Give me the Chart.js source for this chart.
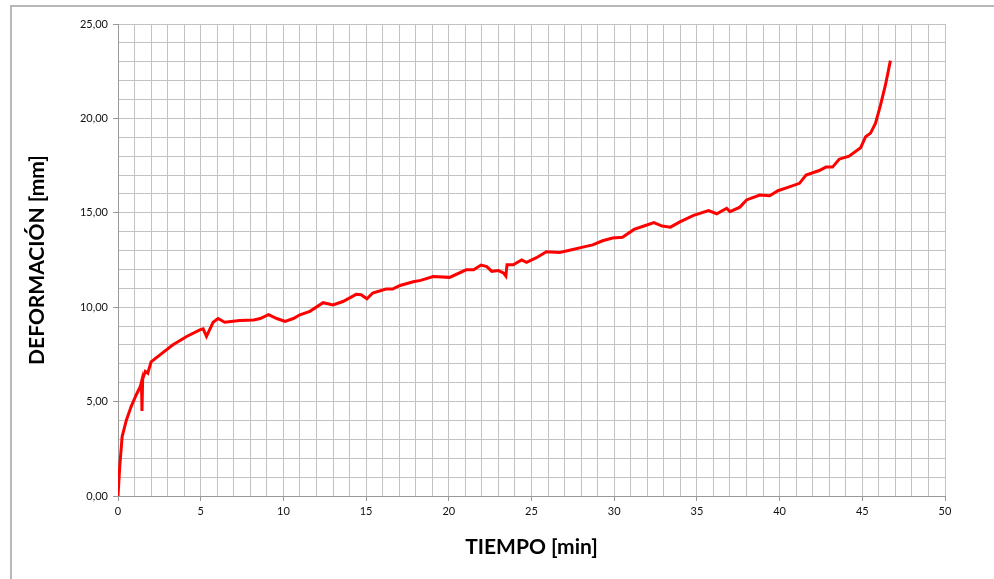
<!DOCTYPE html>
<html>
<head>
<meta charset="utf-8">
<script src="https://cdn.jsdelivr.net/npm/chart.js@4"></script>
<style>
  html, body { margin: 0; padding: 0; background: #fff; overflow: hidden; }
  #frame {
    position: absolute; left: 10px; top: 5px; width: 2000px; height: 2000px;
    border-left: 2px solid #b8b8b8; border-top: 2px solid #b8b8b8;
  }
  #wrap { position: absolute; left: 0; top: 0; width: 994px; height: 579px; }
</style>
</head>
<body>
<div id="frame"></div>
<div id="wrap"><canvas id="chart1" width="994" height="579"></canvas></div>
<script>
// Deformation vs time curve

const timeMin = [
  0, 0.1, 0.25, 0.5, 0.8, 1.1, 1.35, 1.42, 1.45, 1.49, 1.65, 1.8, 2.0, 2.5,
  3.3, 4.15, 4.95, 5.15, 5.35, 5.75, 6.05, 6.45, 7.35, 8.2, 8.6, 9.1, 9.6,
  10.1, 10.6, 11.0, 11.6, 12.4, 13.0, 13.6, 14.4, 14.7, 15.05, 15.4, 16.2,
  16.6, 17.05, 17.85, 18.3, 19.05, 20.05, 21.05, 21.5, 21.95, 22.3, 22.6,
  23.0, 23.3, 23.45, 23.52, 23.9, 24.4, 24.7, 25.3, 25.9, 26.7, 27.5, 28.1,
  28.7, 29.3, 29.9, 30.5, 31.2, 31.8, 32.4, 32.9, 33.4, 34.0, 34.8, 35.7,
  36.2, 36.8, 37.0, 37.6, 38.0, 38.8, 39.4, 39.9, 40.5, 41.2, 41.6, 42.4,
  42.8, 43.2, 43.6, 44.2, 44.9, 45.2, 45.5, 45.8, 46.1, 46.4, 46.7
];
const deformMm = [
  0, 1.5, 3.15, 4.0, 4.75, 5.35, 5.8, 6.05, 4.5, 6.2, 6.6, 6.5, 7.1, 7.45,
  8.0, 8.45, 8.8, 8.85, 8.45, 9.2, 9.4, 9.2, 9.3, 9.32, 9.4, 9.6, 9.4,
  9.25, 9.4, 9.6, 9.78, 10.24, 10.12, 10.3, 10.68, 10.66, 10.45, 10.75, 10.96,
  10.96, 11.15, 11.35, 11.42, 11.62, 11.58, 11.98, 11.98, 12.23, 12.15, 11.9,
  11.94, 11.82, 11.65, 12.25, 12.25, 12.5, 12.38, 12.62, 12.94, 12.9, 13.06, 13.18,
  13.3, 13.52, 13.66, 13.7, 14.12, 14.3, 14.48, 14.3, 14.24, 14.53, 14.86, 15.12,
  14.95, 15.24, 15.06, 15.3, 15.68, 15.94, 15.9, 16.17, 16.35, 16.56, 17.0, 17.24,
  17.42, 17.42, 17.84, 18.0, 18.45, 19.03, 19.22, 19.75, 20.7, 21.77, 23.06
];

const xMin = 0, xMax = 50, yMin = 0, yMax = 25;
const labelStep = 5;

const points = timeMin.map((t, i) => ({ x: t, y: deformMm[i] }));

const tickFont = { family: "Lato, 'Open Sans', sans-serif", size: 11 };
const titleFont = { family: "Lato, 'Open Sans', sans-serif", size: 21, weight: "bold" };
const isMajor = (v) => Math.abs(v % labelStep) < 1e-9;

const ctx1 = document.getElementById("chart1").getContext("2d");

const deformChart = new Chart(ctx1, {
  type: "line",
  data: {
    datasets: [
      {
        label: "Deformación",
        data: points,
        borderColor: "#ff0000",
        borderWidth: 3,
        pointRadius: 0,
        tension: 0,
        fill: false,
      },
    ],
  },
  options: {
    responsive: false,
    animation: false,
    layout: { padding: { left: 0, right: 49, top: 24, bottom: 0 } },
    plugins: {
      legend: { display: false },
      tooltip: { enabled: false },
    },
    scales: {
      x: {
        type: "linear",
        min: xMin,
        max: xMax,
        afterFit: (scale) => { scale.height = 83; },
        ticks: {
          stepSize: 1,
          autoSkip: false,
          maxRotation: 0,
          padding: 4,
          color: "#111",
          font: tickFont,
          callback: (v) => (isMajor(v) ? String(v) : ""),
        },
        grid: {
          color: "#c2c2c2",
          lineWidth: 1,
          tickLength: 5,
          tickColor: (c) => (c.tick && isMajor(c.tick.value) ? "#999" : "rgba(0,0,0,0)"),
        },
        border: { color: "#999", width: 1 },
        title: {
          display: true,
          text: "TIEMPO [min]",
          color: "#000",
          font: titleFont,
          padding: { top: 0, bottom: 19 },
        },
      },
      y: {
        type: "linear",
        min: yMin,
        max: yMax,
        afterFit: (scale) => { scale.width = 118; },
        ticks: {
          stepSize: 1,
          autoSkip: false,
          padding: 5,
          color: "#111",
          font: tickFont,
          callback: (v) => (isMajor(v) ? v.toFixed(2).replace(".", ",") : ""),
        },
        grid: {
          color: "#c2c2c2",
          lineWidth: 1,
          tickLength: 5,
          tickColor: (c) => (c.tick && isMajor(c.tick.value) ? "#999" : "rgba(0,0,0,0)"),
        },
        border: { color: "#999", width: 1 },
        title: {
          display: true,
          text: "DEFORMACIÓN [mm]",
          color: "#000",
          font: titleFont,
          padding: { top: 25, bottom: 0 },
        },
      },
    },
  },
});
</script>
</body>
</html>
